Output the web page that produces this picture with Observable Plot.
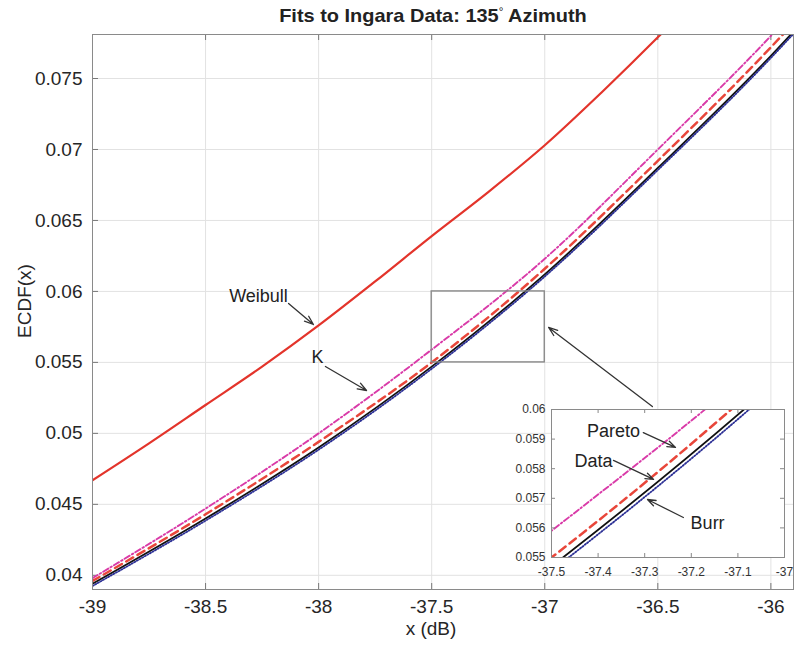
<!DOCTYPE html>
<html><head><meta charset="utf-8">
<script src="https://cdn.jsdelivr.net/npm/d3@7"></script>
<script src="https://cdn.jsdelivr.net/npm/@observablehq/plot@0.6"></script>
<style>
body{margin:0;background:#fff;font-family:"Liberation Sans",Arial,sans-serif;}
#wrap{position:relative;width:795px;height:650px;overflow:hidden;background:#fff;}
#main{position:absolute;left:0;top:0;}
#inset{position:absolute;left:500px;top:400px;}
#title{position:absolute;left:0;width:866px;top:5px;text-align:center;font-weight:bold;font-size:19px;color:#222;transform:scaleX(1.05);}
#title sup{font-size:11px;font-weight:normal;}
</style></head><body>
<div id="wrap"><div id="main"></div><div id="inset"></div><div id="title">Fits to Ingara Data: 135<sup>°</sup> Azimuth</div></div>
<script>
// ---- data ----
const fitX = [-39, -38.5, -38, -37.5, -37, -36.5, -36, -35.9];
const dataY   = [0.0394, 0.0440, 0.0490, 0.0547, 0.0612, 0.0687, 0.0766, 0.0783];
const burrY   = [0.03925, 0.04385, 0.04885, 0.05455, 0.06105, 0.06855, 0.07645, 0.07815];
const paretoY = [0.0396, 0.0443, 0.0494, 0.0550, 0.0616, 0.0692, 0.0772, 0.0789];
const kY      = [0.0398, 0.0447, 0.0500, 0.0559, 0.0623, 0.0700, 0.0780, 0.0797];
const weibullX = [-39, -38.75, -38.5, -38.25, -38, -37.75, -37.5, -37.25, -37, -36.75, -36.5, -36.25];
const weibullY = [0.0467, 0.0493, 0.0520, 0.0547, 0.0576, 0.0607, 0.0639, 0.0670, 0.0703, 0.0740, 0.0779, 0.0820];

const xTicks = [-39, -38.5, -38, -37.5, -37, -36.5, -36];
const yTicks = [0.04, 0.045, 0.05, 0.055, 0.06, 0.065, 0.07, 0.075];
const xDomain = [-39, -35.9];
const yDomain = [0.039, 0.0781];

const insetXTicks = [-37.5, -37.4, -37.3, -37.2, -37.1, -37];
const insetYTicks = [0.055, 0.056, 0.057, 0.058, 0.059, 0.06];
const insetXDomain = [-37.5, -37];
const insetYDomain = [0.055, 0.06];

// annotations (data coordinates)
const mainLabelText = ["Weibull", "K"];
const mainLabelX = [-38.266, -38.005];
const mainLabelY = [0.05964, 0.05534];
const mainArrowX1 = [-38.133, -37.970, -36.524];
const mainArrowY1 = [0.05915, 0.05471, 0.05189];
const mainArrowX2 = [-38.023, -37.788, -36.983];
const mainArrowY2 = [0.05767, 0.05302, 0.05746];

const insetLabelText = ["Pareto", "Data", "Burr"];
const insetLabelX = [-37.367, -37.410, -37.165];
const insetLabelY = [0.05926, 0.05824, 0.05615];
const insetArrowX1 = [-37.303, -37.367, -37.217];
const insetArrowY1 = [0.05922, 0.05828, 0.05635];
const insetArrowX2 = [-37.234, -37.281, -37.294];
const insetArrowY2 = [0.05872, 0.05764, 0.05696];

// ---- build tables ----
const rows = (xs, ys) => xs.map((x, i) => ({x, y: ys[i]}));
const weibull = rows(weibullX, weibullY);
const kFit = rows(fitX, kY);
const pareto = rows(fitX, paretoY);
const dataE = rows(fitX, dataY);
const burr = rows(fitX, burrY);
const mainLabels = mainLabelText.map((t, i) => ({t, x: mainLabelX[i], y: mainLabelY[i]}));
const mainArrows = mainArrowX1.map((x1, i) => ({x1, y1: mainArrowY1[i], x2: mainArrowX2[i], y2: mainArrowY2[i]}));
const insetLabels = insetLabelText.map((t, i) => ({t, x: insetLabelX[i], y: insetLabelY[i]}));
const insetArrows = insetArrowX1.map((x1, i) => ({x1, y1: insetArrowY1[i], x2: insetArrowX2[i], y2: insetArrowY2[i]}));
const zoomBox = [{x1: insetXDomain[0], x2: insetXDomain[1], y1: insetYDomain[0], y2: insetYDomain[1]}];

const curveMarks = () => [
  Plot.line(weibull, {x: "x", y: "y", stroke: "#e3342b", strokeWidth: 2.2, curve: "monotone-x", clip: true}),
  Plot.line(kFit, {x: "x", y: "y", stroke: "#d93aa8", strokeWidth: 1.9, strokeDasharray: "6,2.5,1.5,2.5", curve: "monotone-x", clip: true}),
  Plot.line(pareto, {x: "x", y: "y", stroke: "#e8463a", strokeWidth: 2.5, strokeDasharray: "8,5", curve: "monotone-x", clip: true}),
  Plot.line(dataE, {x: "x", y: "y", stroke: "#111", strokeWidth: 1.8, curve: "monotone-x", clip: true}),
  Plot.line(burr, {x: "x", y: "y", stroke: "#2b2f95", strokeWidth: 1.8, strokeDasharray: "1.2,1.8", curve: "monotone-x", clip: true})
];

const font = "'Liberation Sans', Arial, sans-serif";
const tY = (yDomain[1] - yDomain[0]) * 6 / 555;
const tX = (xDomain[1] - xDomain[0]) * 6 / 701;

const main = Plot.plot({
  width: 795, height: 650,
  marginLeft: 92, marginRight: 2, marginTop: 34, marginBottom: 61,
  style: {fontFamily: font, fontSize: "18px", color: "#262626", background: "white"},
  x: {domain: xDomain, label: null},
  y: {domain: yDomain, label: null},
  marks: [
    Plot.gridX(xTicks, {stroke: "#e2e2e2", strokeOpacity: 1}),
    Plot.gridY(yTicks, {stroke: "#e2e2e2", strokeOpacity: 1}),
    Plot.ruleX(xTicks, {x: d => d, y1: yDomain[0], y2: yDomain[0] + tY, stroke: "#777"}),
    Plot.ruleX(xTicks, {x: d => d, y1: yDomain[1], y2: yDomain[1] - tY, stroke: "#777"}),
    Plot.ruleY(yTicks, {y: d => d, x1: xDomain[0], x2: xDomain[0] + tX, stroke: "#777"}),
    ...curveMarks(),
    Plot.rect(zoomBox, {x1: "x1", x2: "x2", y1: "y1", y2: "y2", fill: "none", stroke: "#8a8a8a", strokeWidth: 1.4}),
    Plot.arrow(mainArrows, {x1: "x1", y1: "y1", x2: "x2", y2: "y2", stroke: "#333", strokeWidth: 1.3, headLength: 11, headAngle: 40}),
    Plot.text(mainLabels, {x: "x", y: "y", text: "t", fontSize: 18, fill: "#222"}),
    Plot.frame({stroke: "#8a8a8a"}),
    Plot.axisX({ticks: xTicks, tickSize: 0, tickPadding: 10, tickFormat: d => String(d), fontSize: 19, label: null}),
    Plot.axisY({ticks: yTicks, tickSize: 0, tickPadding: 10, tickFormat: d => String(d), fontSize: 19, label: null}),
    Plot.text(["x (dB)"], {text: d => d, frameAnchor: "bottom", dx: -12, dy: 45, fontSize: 19}),
    Plot.text(["ECDF(x)"], {text: d => d, frameAnchor: "left", textAnchor: "middle", rotate: -90, dx: -68, dy: -11, fontSize: 19})
  ]
});
document.getElementById("main").append(main);

const itY = (insetYDomain[1] - insetYDomain[0]) * 4 / 148;
const itX = (insetXDomain[1] - insetXDomain[0]) * 4 / 233;
const inset = Plot.plot({
  width: 295, height: 190,
  marginLeft: 51, marginRight: 11, marginTop: 9, marginBottom: 33,
  style: {fontFamily: font, fontSize: "12px", color: "#333", background: "transparent"},
  x: {domain: insetXDomain, label: null},
  y: {domain: insetYDomain, label: null},
  marks: [
    Plot.frame({fill: "white", stroke: "none"}),
    ...curveMarks(),
    Plot.arrow(insetArrows, {x1: "x1", y1: "y1", x2: "x2", y2: "y2", stroke: "#333", strokeWidth: 1.3, headLength: 10, headAngle: 40}),
    Plot.text(insetLabels, {x: "x", y: "y", text: "t", fontSize: 18, fill: "#222"}),
    Plot.ruleX(insetXTicks, {x: d => d, y1: insetYDomain[0], y2: insetYDomain[0] + itY, stroke: "#888"}),
    Plot.ruleX(insetXTicks, {x: d => d, y1: insetYDomain[1], y2: insetYDomain[1] - itY, stroke: "#888"}),
    Plot.ruleY(insetYTicks, {y: d => d, x1: insetXDomain[0], x2: insetXDomain[0] + itX, stroke: "#888"}),
    Plot.ruleY(insetYTicks, {y: d => d, x1: insetXDomain[1], x2: insetXDomain[1] - itX, stroke: "#888"}),
    Plot.frame({stroke: "#8a8a8a"}),
    Plot.axisX({ticks: insetXTicks, tickSize: 0, tickPadding: 10, tickFormat: d => String(d), fontSize: 12, label: null}),
    Plot.axisY({ticks: insetYTicks, tickSize: 0, tickPadding: 6, tickFormat: d => String(+d.toFixed(3)), fontSize: 12, label: null})
  ]
});
document.getElementById("inset").append(inset);
</script></body></html>
